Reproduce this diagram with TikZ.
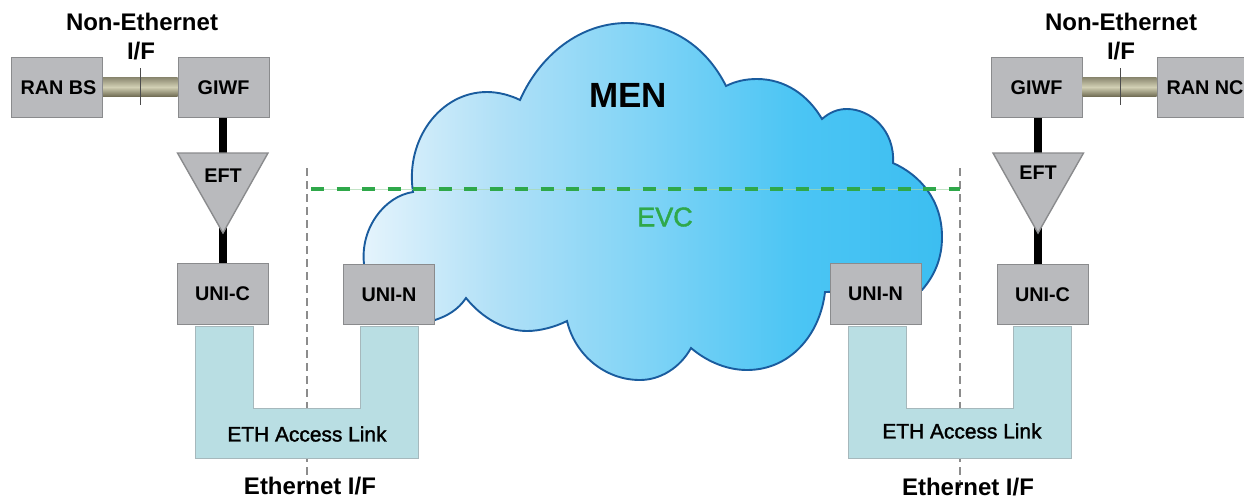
\documentclass[tikz,border=0pt]{standalone}
\usepackage{fontspec}
\setmainfont{Liberation Sans}
\newfontfamily\semibold[FakeBold=1.6]{Liberation Sans}
\usetikzlibrary{calc}
\definecolor{boxfill}{HTML}{B9BABD}
\definecolor{boxline}{HTML}{8A8B8D}
\definecolor{ethfill}{HTML}{B9DEE3}
\definecolor{ethline}{HTML}{A6B8BC}
\definecolor{cloudline}{HTML}{1A5C9E}
\definecolor{evcgreen}{HTML}{2FA84A}
\definecolor{evcthin}{HTML}{A9D9AE}
\definecolor{ifgray}{HTML}{8C8C8C}
\definecolor{olivetop}{HTML}{8B8870}
\definecolor{olivemid}{HTML}{D2D0B4}
\definecolor{olivebot}{HTML}{6F6B52}
\definecolor{cloudA}{HTML}{E6F4FC}
\definecolor{cloudB}{HTML}{B0E0F7}
\definecolor{cloudC}{HTML}{7ED3F6}
\definecolor{cloudD}{HTML}{4BC5F4}
\definecolor{cloudE}{HTML}{3CBEF1}
\pgfdeclarehorizontalshading{cloudshade}{100bp}{
  color(0bp)=(cloudA);
  color(25bp)=(cloudA);
  color(37bp)=(cloudB);
  color(50bp)=(cloudC);
  color(62.5bp)=(cloudD);
  color(75bp)=(cloudE);
  color(100bp)=(cloudE)}
\tikzset{
  devbox/.style={draw=boxline,line width=1pt,fill=boxfill,minimum width=91pt,minimum height=60.5pt,inner sep=0pt,font=\fontsize{19.8}{22}\selectfont\bfseries},
  boxtext/.style={inner sep=0pt,font=\fontsize{19.8}{22}\selectfont\bfseries},
  iflabel/.style={inner sep=0pt,font=\fontsize{24}{26}\selectfont\bfseries},
  ethlabel/.style={inner sep=0pt,font=\fontsize{20.9}{24}\selectfont\semibold},
  ethshape/.style={draw=ethline,line width=0.9pt,fill=ethfill},
  trishape/.style={draw=boxline,line width=1.4pt,fill=boxfill},
  blacklink/.style={draw=black,line width=8.4pt},
  tick/.style={draw=black!70,line width=0.7pt},
  ifline/.style={draw=ifgray,line width=1.6pt,dash pattern=on 8pt off 5pt},
  evcbase/.style={draw=evcthin,line width=0.6pt,opacity=0.7},
  evcdash/.style={draw=evcgreen,line width=4pt,dash pattern=on 13pt off 12.5pt},
  oliveband/.style={top color=olivetop,bottom color=olivebot,middle color=olivemid},
}
\begin{document}
\begin{tikzpicture}[x=1pt,y=-1pt]
\useasboundingbox (0,0) rectangle (1244,499);
% dashed interface lines
\coordinate (ifLtop) at (307,168);
\coordinate (ifLbot) at (307,490);
\coordinate (ifRtop) at (960,168);
\coordinate (ifRbot) at (960,490);
\draw[ifline] (ifLtop) -- (ifLbot);
\draw[ifline] (ifRtop) -- (ifRbot);
% cloud
\path[draw=cloudline,line width=1.9pt,shading=cloudshade]
 (364,264) .. controls (360,228) and (385,196) .. (413,192)
 .. controls (405,140) and (440,92) .. (487,92)
 .. controls (498,92) and (510,95) .. (520,100)
 .. controls (540,55) and (580,23) .. (627,23)
 .. controls (675,23) and (708,50) .. (726,86)
 .. controls (736,81) and (746,79) .. (757,79)
 .. controls (785,79) and (808,95) .. (822,119)
 .. controls (830,112) and (838,109) .. (847,109)
 .. controls (870,109) and (895,130) .. (893,163)
 .. controls (920,175) and (942,200) .. (942,237)
 .. controls (942,258) and (935,275) .. (922,290)
 -- (825,292)
 .. controls (820,335) and (790,370) .. (747,370)
 .. controls (725,370) and (705,360) .. (691,348)
 .. controls (680,368) and (660,380) .. (640,380)
 .. controls (605,380) and (575,355) .. (567,321)
 .. controls (555,327) and (540,331) .. (527,331)
 .. controls (505,331) and (482,318) .. (466,298)
 .. controls (458,310) and (447,316) .. (435,320)
 -- (364,320) -- cycle;
\node[inner sep=0pt,font=\fontsize{35}{40}\selectfont\bfseries] (men) at (628,95) {MEN};
% ETH access links
\draw[ethshape] (195,326) -- (253,326) -- (253,408) -- (360,408) -- (360,326) -- (418,326) -- (418,458) -- (195,458) -- cycle;
\draw[ethshape] (848,326) -- (906,326) -- (906,408) -- (1013,408) -- (1013,326) -- (1071,326) -- (1071,458) -- (848,458) -- cycle;
\node[ethlabel] (ethL) at (307,434) {ETH Access Link};
\node[ethlabel] (ethR) at (962,431) {ETH Access Link};
% EVC
\coordinate (evcL) at (311,189);
\coordinate (evcR) at (960,189);
\draw[evcbase] (evcL) -- (evcR);
\draw[evcdash] (evcL) -- (evcR);
\node[inner sep=0pt,text=evcgreen,font=\fontsize{27}{30}\selectfont\semibold] (evc) at (665,217) {EVC};
% boxes
\node[devbox] (ranbs) at (57,87.5) {\hspace*{3pt}RAN BS};
\node[devbox] (giwfL) at (223.5,87.5) {GIWF};
\node[devbox] (unicL) at (222.5,294) {UNI-C};
\node[devbox] (uninL) at (389,294.5) {UNI-N};
\node[devbox] (giwfR) at (1036.5,87.5) {GIWF};
\node[devbox,minimum width=96pt] (rannc) at (1205,87.5) {RAN NC};
\node[devbox] (uninR) at (875.5,294) {UNI-N};
\node[devbox] (unicR) at (1042.5,294.5) {UNI-C};
% non-Ethernet links
\path[oliveband] ($(ranbs.east)+(0,-10)$) rectangle ($(giwfL.west)+(0,9)$);
\path[oliveband] ($(giwfR.east)+(0,-10)$) rectangle ($(rannc.west)+(0,9)$);
\coordinate (tickLt) at (140.5,68);
\coordinate (tickLb) at (140.5,105);
\coordinate (tickRt) at (1120,68);
\coordinate (tickRb) at (1120,105);
\draw[tick] (tickLt) -- (tickLb);
\draw[tick] (tickRt) -- (tickRb);
% EFT anchors and black links
\coordinate (eftL) at (223,175);
\coordinate (eftR) at (1038,175);
\draw[blacklink] (giwfL.south -| eftL) -- (eftL);
\draw[blacklink] (eftL) -- (unicL.north -| eftL);
\draw[blacklink] (giwfR.south -| eftR) -- (eftR);
\draw[blacklink] (eftR) -- (unicR.north -| eftR);
% EFT triangles
\draw[trishape,line join=miter] (177.5,153) -- (268,153) -- (223,233) -- cycle;
\draw[trishape,line join=miter] (993,153) -- (1083.5,153) -- (1038,233) -- cycle;
\node[boxtext] (eftLt) at (223,176) {EFT};
\node[boxtext] (eftRt) at (1038,173) {EFT};
% interface labels
\node[iflabel] (neL) at (142,22) {Non-Ethernet};
\node[iflabel] (nfL) at (141,51) {I/F};
\node[iflabel] (neR) at (1121,22) {Non-Ethernet};
\node[iflabel] (nfR) at (1121,51) {I/F};
\node[iflabel] (eifL) at (310,486.5) {Ethernet I/F};
\node[iflabel] (eifR) at (968,487.5) {Ethernet I/F};
\end{tikzpicture}
\end{document}
